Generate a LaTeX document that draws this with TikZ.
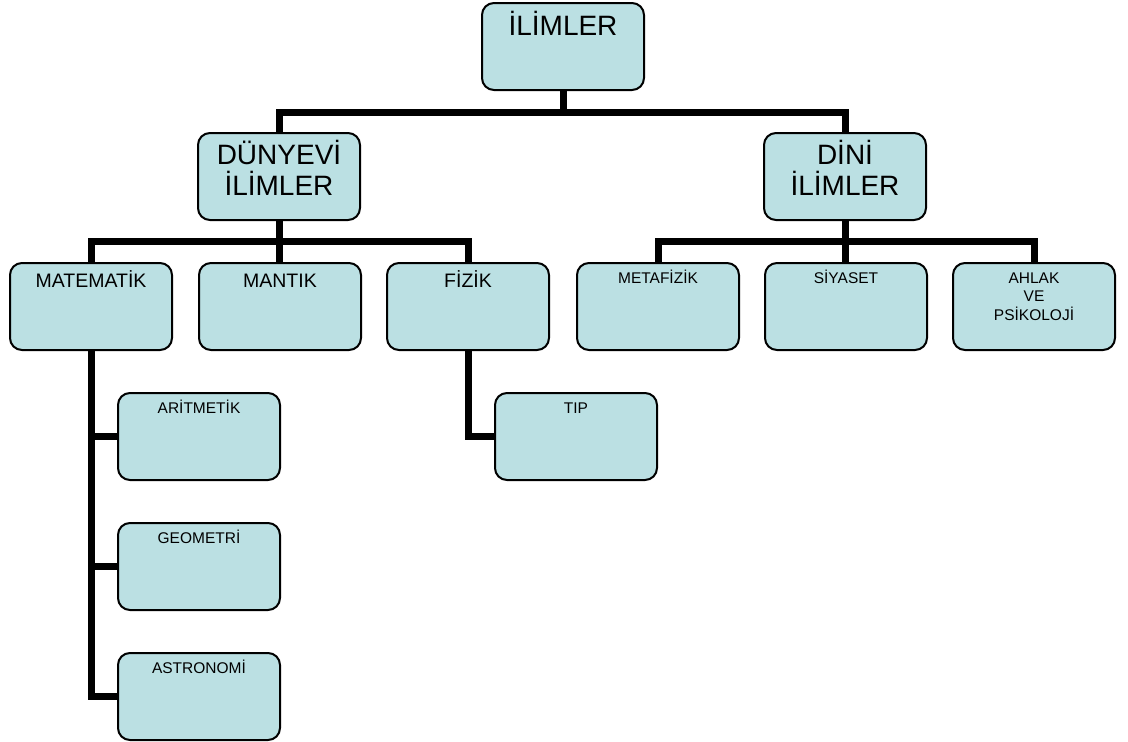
\documentclass[tikz,border=0pt]{standalone}
\usepackage{fontspec}
\setmainfont{Liberation Sans}
\usetikzlibrary{backgrounds}
\definecolor{boxfill}{RGB}{187,224,227}
\tikzset{
  box/.style={draw=black, line width=2pt, fill=boxfill, rounded corners=12pt,
    minimum width=162pt, minimum height=87pt, inner sep=0pt, outer sep=0pt},
  conn/.style={draw=black, line width=7pt, line join=miter},
  big/.style={font=\fontsize{28}{32}\selectfont, anchor=base, inner sep=0pt},
  mid/.style={font=\fontsize{19.5}{23}\selectfont, anchor=base, inner sep=0pt},
  small/.style={font=\fontsize{15.5}{18.5}\selectfont, anchor=base, inner sep=0pt}
}
\begin{document}
\begin{tikzpicture}[x=1pt,y=-1pt]
\useasboundingbox (0,0) rectangle (1128,742);
% boxes
\node[box] (ilimler) at (563,46.5) {};
\node[box] (dunyevi) at (279,176.5) {};
\node[box] (dini) at (845,176.5) {};
\node[box] (matematik) at (91,306.5) {};
\node[box] (mantik) at (280,306.5) {};
\node[box] (fizik) at (468,306.5) {};
\node[box] (metafizik) at (658,306.5) {};
\node[box] (siyaset) at (846,306.5) {};
\node[box] (ahlak) at (1034,306.5) {};
\node[box] (aritmetik) at (199,436.5) {};
\node[box] (geometri) at (199,566.5) {};
\node[box] (astronomi) at (199,696.5) {};
\node[box] (tip) at (576,436.5) {};
% texts
\node[big] (t-ilimler) at ([yshift=-32pt]ilimler.north) {İLİMLER};
\node[big] (t-dunyevi1) at ([yshift=-31pt]dunyevi.north) {DÜNYEVİ};
\node[big] (t-dunyevi2) at ([yshift=-62pt]dunyevi.north) {İLİMLER};
\node[big] (t-dini1) at ([yshift=-31pt]dini.north) {DİNİ};
\node[big] (t-dini2) at ([yshift=-62pt]dini.north) {İLİMLER};
\node[mid] (t-matematik) at ([yshift=-24pt]matematik.north) {MATEMATİK};
\node[mid] (t-mantik) at ([yshift=-24pt]mantik.north) {MANTIK};
\node[mid] (t-fizik) at ([yshift=-24pt]fizik.north) {FİZİK};
\node[small] (t-metafizik) at ([yshift=-20pt]metafizik.north) {METAFİZİK};
\node[small] (t-siyaset) at ([yshift=-20pt]siyaset.north) {SİYASET};
\node[small] (t-ahlak1) at ([yshift=-20pt]ahlak.north) {AHLAK};
\node[small] (t-ahlak2) at ([yshift=-38.5pt]ahlak.north) {VE};
\node[small] (t-ahlak3) at ([yshift=-57pt]ahlak.north) {PSİKOLOJİ};
\node[small] (t-aritmetik) at ([yshift=-20pt]aritmetik.north) {ARİTMETİK};
\node[small] (t-geometri) at ([yshift=-20pt]geometri.north) {GEOMETRİ};
\node[small] (t-astronomi) at ([yshift=-20pt]astronomi.north) {ASTRONOMİ};
\node[small] (t-tip) at ([yshift=-20pt]tip.north) {TIP};
% connectors
\coordinate (bus1) at (0,112);
\coordinate (bus2) at (0,241);
\begin{scope}[on background layer]
\draw[conn] (ilimler.south) -- (ilimler.south |- bus1);
\draw[conn] (dunyevi.north) -- (dunyevi.north |- bus1) -- (dini.north |- bus1) -- (dini.north);
\draw[conn] (dunyevi.south) -- (dunyevi.south |- mantik.north);
\draw[conn] (matematik.north) -- (matematik.north |- bus2) -- (fizik.north |- bus2) -- (fizik.north);
\draw[conn] (dini.south) -- (dini.south |- siyaset.north);
\draw[conn] (metafizik.north) -- (metafizik.north |- bus2) -- (ahlak.north |- bus2) -- (ahlak.north);
\draw[conn] (matematik.south) -- (matematik.south |- astronomi.west) -- (astronomi.west);
\draw[conn] (aritmetik.west) -- (aritmetik.west -| matematik.south);
\draw[conn] (geometri.west) -- (geometri.west -| matematik.south);
\draw[conn] (fizik.south) -- (fizik.south |- tip.west) -- (tip.west);
\end{scope}
\end{tikzpicture}
\end{document}
